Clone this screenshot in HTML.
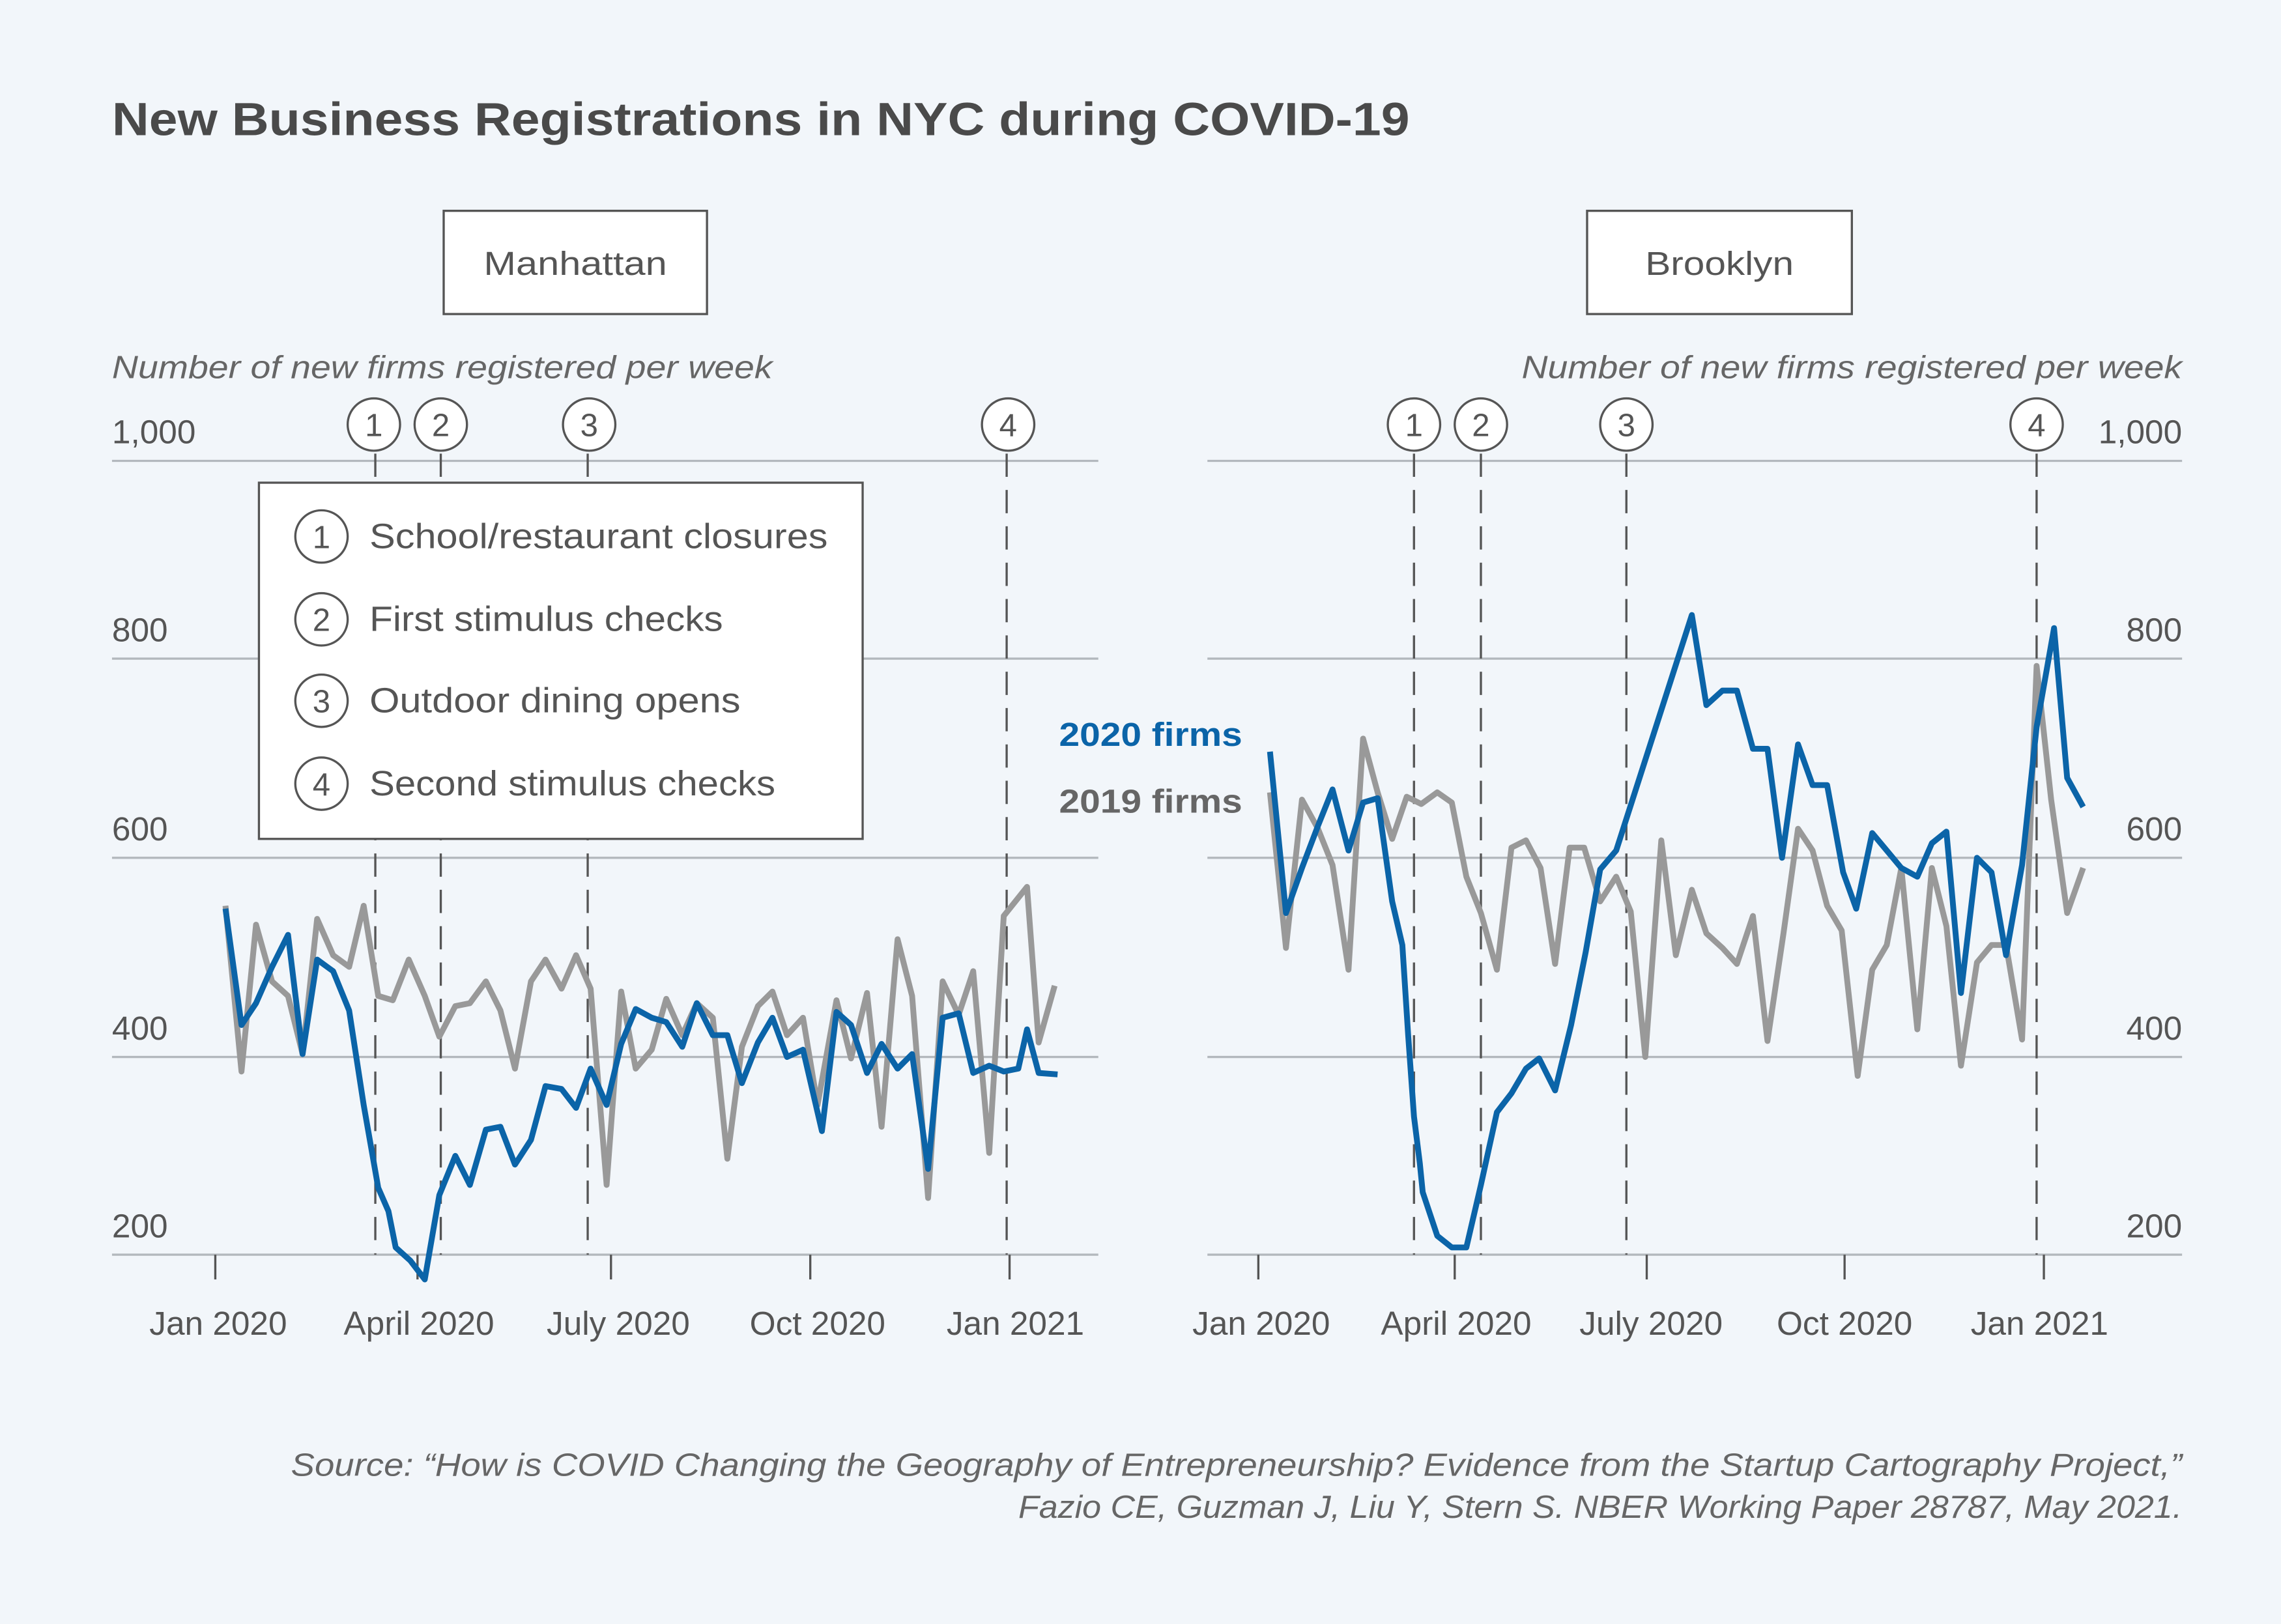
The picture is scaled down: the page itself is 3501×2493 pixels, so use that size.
<!DOCTYPE html>
<html><head><meta charset="utf-8"><style>
html,body{margin:0;padding:0;background:#f2f6fa;}
svg{display:block;}
text{font-family:"Liberation Sans",sans-serif;}
</style></head><body>
<svg width="3501" height="2493" viewBox="0 0 1568 1117" preserveAspectRatio="none" xmlns="http://www.w3.org/2000/svg">
<rect width="1568" height="1117" fill="#f2f6fa"/>
<text x="77" y="93" font-size="32" font-weight="bold" fill="#4a4a4a" textLength="892" lengthAdjust="spacingAndGlyphs">New Business Registrations in NYC during COVID-19</text>
<rect x="305" y="145" width="181" height="71" fill="#fff" stroke="#555" stroke-width="1.5"/>
<text x="395.5" y="189" font-size="23" fill="#555" text-anchor="middle" textLength="126" lengthAdjust="spacingAndGlyphs">Manhattan</text>
<rect x="1091" y="145" width="182" height="71" fill="#fff" stroke="#555" stroke-width="1.5"/>
<text x="1182" y="189" font-size="23" fill="#555" text-anchor="middle" textLength="102" lengthAdjust="spacingAndGlyphs">Brooklyn</text>
<g font-size="22" font-style="italic" fill="#666">
<text x="77" y="260" textLength="454" lengthAdjust="spacingAndGlyphs">Number of new firms registered per week</text>
<text x="1500" y="260" text-anchor="end" textLength="454" lengthAdjust="spacingAndGlyphs">Number of new firms registered per week</text>
</g>
<g stroke="#b3b8bd" stroke-width="1.5">
<line x1="77" x2="755" y1="317" y2="317"/><line x1="77" x2="755" y1="453" y2="453"/><line x1="77" x2="755" y1="590" y2="590"/><line x1="77" x2="755" y1="727" y2="727"/><line x1="77" x2="755" y1="863" y2="863"/>
<line x1="830" x2="1500" y1="317" y2="317"/><line x1="830" x2="1500" y1="453" y2="453"/><line x1="830" x2="1500" y1="590" y2="590"/><line x1="830" x2="1500" y1="727" y2="727"/><line x1="830" x2="1500" y1="863" y2="863"/>
</g>
<g stroke="#555" stroke-width="1.5">
<line x1="148" x2="148" y1="863" y2="880"/><line x1="287" x2="287" y1="863" y2="880"/><line x1="420" x2="420" y1="863" y2="880"/><line x1="557" x2="557" y1="863" y2="880"/><line x1="694" x2="694" y1="863" y2="880"/>
<line x1="865" x2="865" y1="863" y2="880"/><line x1="1000" x2="1000" y1="863" y2="880"/><line x1="1132" x2="1132" y1="863" y2="880"/><line x1="1268" x2="1268" y1="863" y2="880"/><line x1="1405" x2="1405" y1="863" y2="880"/>
</g>
<g font-size="23" fill="#555">
<text x="77" y="305">1,000</text><text x="77" y="441">800</text><text x="77" y="578">600</text><text x="77" y="715">400</text><text x="77" y="851">200</text>
<g text-anchor="end"><text x="1500" y="305">1,000</text><text x="1500" y="441">800</text><text x="1500" y="578">600</text><text x="1500" y="715">400</text><text x="1500" y="851">200</text></g>
<g text-anchor="middle">
<text x="150" y="918">Jan 2020</text><text x="288" y="918">April 2020</text><text x="425" y="918">July 2020</text><text x="562" y="918">Oct 2020</text><text x="698" y="918">Jan 2021</text>
<text x="867" y="918">Jan 2020</text><text x="1001" y="918">April 2020</text><text x="1135" y="918">July 2020</text><text x="1268" y="918">Oct 2020</text><text x="1402" y="918">Jan 2021</text>
</g></g>
<g stroke="#555" stroke-width="1.5" stroke-dasharray="16,9">
<line x1="258" x2="258" y1="312" y2="863"/><line x1="303" x2="303" y1="312" y2="863"/><line x1="404" x2="404" y1="312" y2="863"/><line x1="692" x2="692" y1="312" y2="863"/>
<line x1="972" x2="972" y1="312" y2="863"/><line x1="1018" x2="1018" y1="312" y2="863"/><line x1="1118" x2="1118" y1="312" y2="863"/><line x1="1400" x2="1400" y1="312" y2="863"/>
</g>
<g fill="#fff" stroke="#555" stroke-width="1.5">
<circle cx="257" cy="292" r="18"/><circle cx="303" cy="292" r="18"/><circle cx="405" cy="292" r="18"/><circle cx="693" cy="292" r="18"/>
<circle cx="972" cy="292" r="18"/><circle cx="1018" cy="292" r="18"/><circle cx="1118" cy="292" r="18"/><circle cx="1400" cy="292" r="18"/>
</g>
<g font-size="22" fill="#555" text-anchor="middle">
<text x="257" y="300">1</text><text x="303" y="300">2</text><text x="405" y="300">3</text><text x="693" y="300">4</text>
<text x="972" y="300">1</text><text x="1018" y="300">2</text><text x="1118" y="300">3</text><text x="1400" y="300">4</text>
</g>
<polyline fill="none" stroke="#999" stroke-width="4" stroke-linejoin="round" points="155,623 166,737 176,636 187,675 198,685 208,725 218,632 229,657 240,665 250,623 260,685 270,688 281,660 292,685 302,713 313,692 323,690 334,675 344,695 354,735 365,675 375,660 386,680 396,657 406,680 417,815 427,682 437,735 448,722 458,687 469,712 479,690 490,700 500,797 510,720 521,692 531,682 541,712 552,700 562,760 575,688 585,728 596,683 606,775 617,646 627,685 638,824 648,675 659,698 669,668 680,793 690,630 706,610 714,717 725,678"/>
<polyline fill="none" stroke="#0b64a8" stroke-width="4" stroke-linejoin="round" points="155,625 166,705 176,690 187,665 198,643 208,725 218,660 229,668 240,695 250,760 260,817 267,833 272,858 282,867 292,880 302,822 313,795 323,815 334,777 344,775 354,801 365,784 375,747 386,749 396,762 406,735 417,760 427,718 437,694 448,700 458,703 469,720 479,690 490,712 500,712 510,745 521,717 531,700 541,727 552,722 565,778 575,696 585,705 596,738 606,718 617,735 627,725 638,804 648,700 659,697 669,738 680,733 690,737 700,735 706,708 714,738 727,739"/>
<polyline fill="none" stroke="#999" stroke-width="4" stroke-linejoin="round" points="873,545 884,652 895,550 906,570 916,595 927,667 937,508 947,545 957,577 967,548 977,553 988,545 998,552 1008,603 1018,628 1029,667 1039,583 1049,578 1059,597 1069,663 1079,583 1089,583 1100,620 1111,603 1121,627 1131,727 1142,578 1152,657 1163,612 1173,642 1184,652 1194,663 1205,630 1215,716 1226,642 1236,570 1246,585 1256,623 1266,640 1277,740 1287,667 1297,650 1307,597 1318,708 1328,597 1338,637 1348,733 1359,662 1369,650 1379,650 1390,715 1400,458 1410,550 1421,628 1432,597"/>
<polyline fill="none" stroke="#0b64a8" stroke-width="4" stroke-linejoin="round" points="873,517 884,628 895,597 906,568 916,543 927,585 937,552 947,549 957,620 964,650 968,712 972,768 976,800 978,820 988,850 998,858 1008,858 1018,815 1029,765 1039,752 1049,735 1058,728 1069,750 1080,705 1090,655 1100,598 1111,585 1163,423 1173,485 1184,475 1194,475 1205,515 1215,515 1225,590 1236,512 1246,540 1256,540 1267,600 1276,625 1287,573 1297,585 1307,597 1318,603 1328,580 1338,572 1348,683 1359,590 1369,600 1379,657 1390,595 1400,500 1412,432 1421,535 1432,555"/>
<rect x="178" y="332" width="415" height="245" fill="#fff" stroke="#555" stroke-width="1.5"/>
<g fill="none" stroke="#555" stroke-width="1.5">
<circle cx="221" cy="369" r="18"/><circle cx="221" cy="426" r="18"/><circle cx="221" cy="482" r="18"/><circle cx="221" cy="539" r="18"/>
</g>
<g font-size="22" fill="#555">
<text x="221" y="377" text-anchor="middle">1</text><text x="221" y="434" text-anchor="middle">2</text><text x="221" y="490" text-anchor="middle">3</text><text x="221" y="547" text-anchor="middle">4</text>
<text x="254" y="377" font-size="24" textLength="315" lengthAdjust="spacingAndGlyphs">School/restaurant closures</text>
<text x="254" y="434" font-size="24" textLength="243" lengthAdjust="spacingAndGlyphs">First stimulus checks</text>
<text x="254" y="490" font-size="24" textLength="255" lengthAdjust="spacingAndGlyphs">Outdoor dining opens</text>
<text x="254" y="547" font-size="24" textLength="279" lengthAdjust="spacingAndGlyphs">Second stimulus checks</text>
</g>
<text x="728" y="513" font-size="23" font-weight="bold" fill="#0b64a8" textLength="126" lengthAdjust="spacingAndGlyphs">2020 firms</text>
<text x="728" y="559" font-size="23" font-weight="bold" fill="#666" textLength="126" lengthAdjust="spacingAndGlyphs">2019 firms</text>
<g font-size="22" font-style="italic" fill="#666" text-anchor="end">
<text x="1500" y="1015" textLength="1300" lengthAdjust="spacingAndGlyphs">Source: “How is COVID Changing the Geography of Entrepreneurship? Evidence from the Startup Cartography Project,”</text>
<text x="1500" y="1044" textLength="800" lengthAdjust="spacingAndGlyphs">Fazio CE, Guzman J, Liu Y, Stern S. NBER Working Paper 28787, May 2021.</text>
</g>
</svg>
</body></html>
